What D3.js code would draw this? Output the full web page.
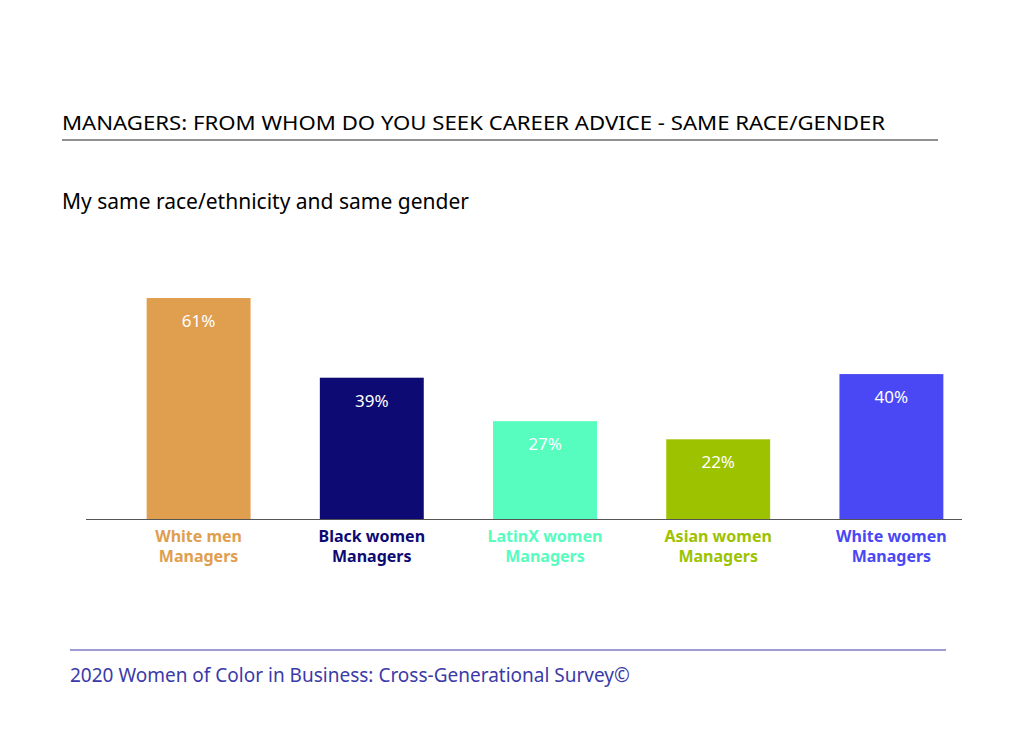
<!DOCTYPE html>
<html lang="en">
<head>
<meta charset="UTF-8">
<style>
  body { margin: 0; background: #fff; }
  svg { font-family: "Noto Sans", sans-serif; }
</style>
</head>
<body>
<svg width="1024" height="744"></svg>
<script src="https://d3js.org/d3.v7.min.js"></script>
<script>
const categories = ["White men|Managers", "Black women|Managers", "LatinX women|Managers", "Asian women|Managers", "White women|Managers"];
const values = [61, 39, 27, 22, 40];
const colors = ["#E09E4F", "#0D0A73", "#57FDBE", "#9DC200", "#4A47F5"];

const svg = d3.select("svg");

svg.append("text").attr("x", 62).attr("y", 130)
  .attr("font-size", 19.5).attr("fill", "#000")
  .attr("textLength", 823).attr("lengthAdjust", "spacingAndGlyphs")
  .text("MANAGERS: FROM WHOM DO YOU SEEK CAREER ADVICE - SAME RACE/GENDER");
svg.append("line").attr("x1", 62).attr("x2", 938).attr("y1", 140).attr("y2", 140)
  .attr("stroke", "#222").attr("stroke-width", 1);
svg.append("text").attr("x", 62).attr("y", 209)
  .attr("font-size", 21).attr("fill", "#000")
  .text("My same race/ethnicity and same gender");

const x = d3.scaleBand().domain(categories).range([112, 978]).paddingInner(0.4).paddingOuter(0.2);
const y = d3.scaleLinear().domain([0, 61]).range([519, 298]);

const data = categories.map((c, i) => ({ c, v: values[i], col: colors[i] }));

svg.selectAll("rect.bar").data(data).join("rect")
  .attr("class", "bar")
  .attr("x", d => x(d.c)).attr("width", x.bandwidth())
  .attr("y", d => y(d.v)).attr("height", d => y(0) - y(d.v))
  .attr("fill", d => d.col);

svg.selectAll("text.val").data(data).join("text")
  .attr("class", "val")
  .attr("x", d => x(d.c) + x.bandwidth() / 2).attr("y", d => y(d.v) + 29)
  .attr("text-anchor", "middle").attr("font-size", 17).attr("fill", "#fff")
  .text(d => d.v + "%");

svg.append("line").attr("x1", 86).attr("x2", 962).attr("y1", 519.5).attr("y2", 519.5)
  .attr("stroke", "#555").attr("stroke-width", 1);

const lab = svg.selectAll("text.lab").data(data).join("text")
  .attr("class", "lab")
  .attr("text-anchor", "middle").attr("font-size", 16).attr("font-weight", "bold")
  .attr("fill", d => d.col);
lab.selectAll("tspan").data(d => d.c.split("|").map(t => ({ t, d }))).join("tspan")
  .attr("x", o => x(o.d.c) + x.bandwidth() / 2)
  .attr("y", (o, i) => 542 + i * 20)
  .text(o => o.t);

svg.append("line").attr("x1", 70).attr("x2", 946).attr("y1", 650).attr("y2", 650)
  .attr("stroke", "#3b3aa8").attr("stroke-width", 1);
svg.append("text").attr("x", 70).attr("y", 682)
  .attr("font-size", 19).attr("fill", "#3b3aa8")
  .text("2020 Women of Color in Business: Cross-Generational Survey©");
</script>
</body>
</html>
